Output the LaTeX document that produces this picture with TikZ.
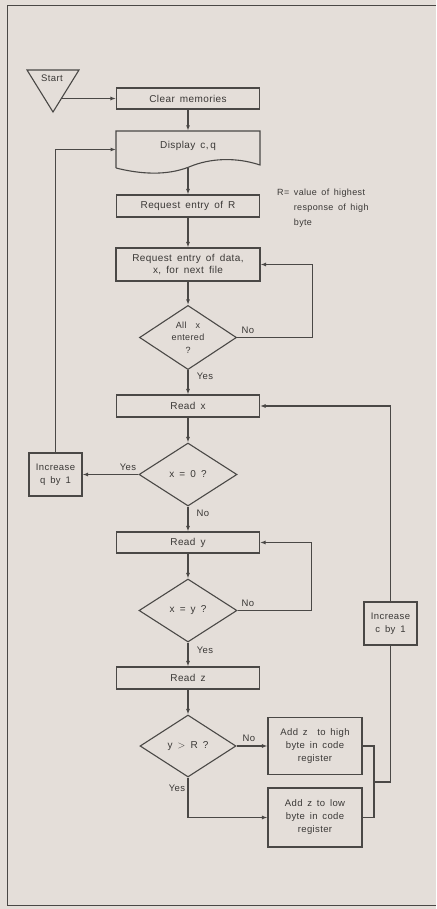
\documentclass[tikz,border=0pt]{standalone}
\usepackage{fontspec}
\setmainfont{Liberation Sans}
\newfontfamily\diagfont[LetterSpace=4,WordSpace=1.6]{Liberation Sans}
\usetikzlibrary{arrows.meta,shapes.geometric}
\definecolor{bgcol}{HTML}{E4DED9}
\definecolor{inkcol}{HTML}{4A4846}
\definecolor{txtcol}{HTML}{3A3836}
\begin{document}
\begin{tikzpicture}[x=1pt,y=-1pt,
  every node/.style={text=txtcol,font=\diagfont\fontsize{10}{11}\selectfont},
  proc/.style={draw=inkcol,line width=1.1pt,rectangle,inner sep=1pt,align=center},
  dec/.style={draw=inkcol,line width=1.1pt,diamond,inner sep=0pt,align=center,minimum width=97pt,minimum height=63pt},
  lbl/.style={font=\diagfont\fontsize{9.5}{10}\selectfont,inner sep=0pt},
  line/.style={draw=inkcol,line width=1.1pt},
  arr/.style={line,-{Latex[length=5.5pt,width=4pt]}}]
\fill[bgcol] (0,0) rectangle (436,909);
\useasboundingbox (0,0) rectangle (436,909);
\draw[inkcol,line width=1pt] (436,6) -- (7,6) -- (7,905) -- (436,905);

% start
\draw[line] (27,70) -- (79,70) -- (53,112) -- cycle;
\node[lbl,font=\diagfont\fontsize{9.5}{10}\selectfont] (start) at (52,78) {Start};
\coordinate (startpt) at (62,98.5);

\node[proc,minimum width=143pt,minimum height=21pt] (clear) at (188,98.5) {Clear memories};

% display
\node[inner sep=0pt,minimum width=144pt,minimum height=30pt] (disp) at (188,146) {Display c,\,q};
\draw[line] (116,168) -- (116,131) -- (260,131) -- (260,165)
  .. controls (236,157) and (210,158) .. (189,167)
  .. controls (166,176) and (140,174) .. (116,168);
\coordinate (dispbot) at (188,168);
\coordinate (dispin) at (116,149.5);

\node[proc,minimum width=143pt,minimum height=22pt] (reqR) at (188,206) {Request entry of R};
\node[proc,minimum width=144pt,minimum height=33pt,inner sep=0pt,font=\diagfont\fontsize{10}{12.5}\selectfont] (reqD) at (188,264.5) {Request entry of data,\\x, for next file};

\node[anchor=north west,align=left,inner sep=0pt,font=\diagfont\fontsize{9}{15}\selectfont] (note) at (277,189) {R=\ value of highest\\\phantom{R=\ }response of high\\\phantom{R=\ }byte};

\node[dec,font=\diagfont\fontsize{9}{12.5}\selectfont] (d1) at (188,337.5) {All\ \ x\\entered\\?};
\node[proc,minimum width=143pt,minimum height=22pt] (readx) at (188,406) {Read x};
\node[dec,minimum width=98pt] (d2) at (188,474.5) {x = 0 ?};
\node[proc,minimum width=53pt,minimum height=43pt,inner sep=0pt,font=\diagfont\fontsize{9.5}{13}\selectfont] (incq) at (55.5,474.5) {Increase\\q by 1};
\node[proc,minimum width=143pt,minimum height=21pt] (ready) at (188,542.5) {Read y};
\node[dec,minimum width=98pt] (d3) at (188,610.5) {x = y ?};
\node[proc,minimum width=143pt,minimum height=22pt] (readz) at (188,678) {Read z};
\node[dec,minimum width=96pt,minimum height=62pt] (d4) at (188,746) {y $>$ R ?};
\node[proc,minimum width=94pt,minimum height=57pt,inner sep=0pt,font=\diagfont\fontsize{9.5}{13}\selectfont] (high) at (315,746) {Add z\ \ to high\\byte in code\\register};
\node[proc,minimum width=94pt,minimum height=59pt,inner sep=0pt,font=\diagfont\fontsize{9.5}{13}\selectfont] (low) at (315,817.5) {Add z to low\\byte in code\\register};
\node[proc,minimum width=53pt,minimum height=43pt,inner sep=0pt,font=\diagfont\fontsize{9.5}{13}\selectfont] (incc) at (390.5,623.5) {Increase\\c by 1};
\coordinate (merge) at (374,782);

% labels
\node[lbl] (no1) at (248,330) {No};
\node[lbl] (yes1) at (205,376) {Yes};
\node[lbl] (yes2) at (128,467) {Yes};
\node[lbl] (no2) at (203,513) {No};
\node[lbl] (no3) at (248,603) {No};
\node[lbl] (yes3) at (205,650) {Yes};
\node[lbl] (no4) at (249,738) {No};
\node[lbl] (yes4) at (177,788) {Yes};

% connectors
\draw[arr] (startpt) -- (clear.west);
\draw[arr] (clear.south) -- (disp.north);
\draw[arr] (dispbot) -- (reqR.north);
\draw[arr] (reqR.south) -- (reqD.north);
\draw[arr] (reqD.south) -- (d1.north);
\draw[arr] (d1.east) -- ++(75,0) |- (reqD.east);
\draw[arr] (d1.south) -- (readx.north);
\draw[arr] (readx.south) -- (d2.north);
\draw[arr] (d2.west) -- (incq.east);
\draw[arr] (incq.north) |- (dispin);
\draw[arr] (d2.south) -- (ready.north);
\draw[arr] (d3.east) -- ++(74,0) |- (ready.east);
\draw[arr] (ready.south) -- (d3.north);
\draw[arr] (d3.south) -- (readz.north);
\draw[arr] (readz.south) -- (d4.north);
\draw[arr] (d4.east) -- (high.west);
\draw[arr] (d4.south) |- (low.west);
\draw[line] (high.east) -| (merge);
\draw[line] (low.east) -| (merge);
\draw[line] (merge) -| (incc.south);
\draw[arr] (incc.north) |- (readx.east);
\end{tikzpicture}
\end{document}
